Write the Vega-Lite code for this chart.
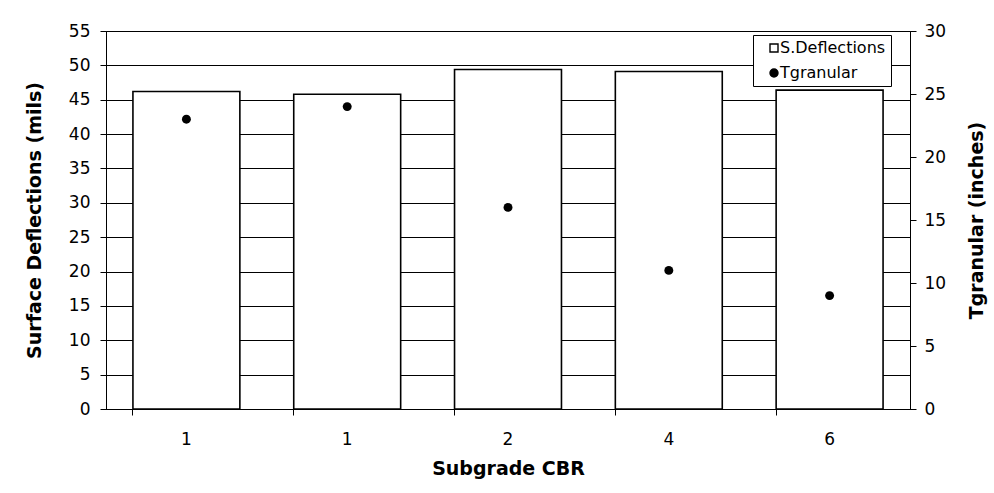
{
  "$schema": "https://vega.github.io/schema/vega-lite/v6.json",
  "autosize": "none",
  "width": 804,
  "height": 378,
  "padding": {"left": 106, "top": 31, "right": 84, "bottom": 84},
  "background": "white",
  "config": {
    "font": "DejaVu Sans",
    "view": {"stroke": "black", "strokeWidth": 1},
    "axis": {"labelFontSize": 17, "labelColor": "black", "titleFontSize": 19, "titleFontWeight": "bold", "titleColor": "black", "domainColor": "black", "tickColor": "black", "labelFont": "DejaVu Sans", "titleFont": "DejaVu Sans"},
    "legend": {"labelFontSize": 16, "labelFont": "DejaVu Sans", "labelColor": "black"}
  },
  "data": {
    "values": [
      {"idx": "a", "cbr": "1", "deflection": 46.2, "tgranular": 23},
      {"idx": "b", "cbr": "1", "deflection": 45.8, "tgranular": 24},
      {"idx": "c", "cbr": "2", "deflection": 49.4, "tgranular": 16},
      {"idx": "d", "cbr": "4", "deflection": 49.1, "tgranular": 11},
      {"idx": "e", "cbr": "6", "deflection": 46.4, "tgranular": 9}
    ]
  },
  "encoding": {
    "x": {
      "field": "idx",
      "type": "nominal",
      "scale": {"paddingInner": 0.335, "paddingOuter": 0.1675},
      "axis": {
        "title": "Subgrade CBR",
        "labelAngle": 0,
        "labelExpr": "{'a':'1','b':'1','c':'2','d':'4','e':'6'}[datum.value]",
        "bandPosition": 0,
        "labelPadding": 16,
        "titlePadding": 12,
        "tickSize": 6,
        "domainColor": "black"
      }
    }
  },
  "layer": [
    {
      "mark": {"type": "bar", "stroke": "black", "strokeWidth": 1.6},
      "encoding": {
        "y": {
          "field": "deflection",
          "type": "quantitative",
          "scale": {"domain": [0, 55], "nice": false},
          "axis": {
            "title": "Surface Deflections (mils)",
            "values": [0, 5, 10, 15, 20, 25, 30, 35, 40, 45, 50, 55],
            "grid": true,
            "gridColor": "black",
            "gridOpacity": 1,
            "gridWidth": 1,
            "tickSize": 6,
            "labelPadding": 10,
            "titlePadding": 24
          }
        },
        "color": {
          "datum": "S.Deflections",
          "scale": {"domain": ["S.Deflections", "Tgranular"], "range": ["white", "black"]},
          "legend": {
            "title": null,
            "orient": "none",
            "legendX": 647,
            "legendY": 4,
            "fillColor": "white",
            "strokeColor": "black",
            "padding": 5,
            "symbolSize": 64,
            "symbolOffset": 8,
            "labelOffset": -2,
            "symbolStrokeColor": "black",
            "symbolStrokeWidth": 1,
            "rowPadding": 9,
            "encode": {
              "symbols": {
                "update": {
                  "shape": {"signal": "datum.value === 'S.Deflections' ? 'square' : 'circle'"},
                  "stroke": {"value": "black"},
                  "strokeWidth": {"value": 1.4}
                }
              }
            }
          }
        }
      }
    },
    {
      "mark": {"type": "point", "filled": true, "size": 80, "opacity": 1},
      "encoding": {
        "y": {
          "field": "tgranular",
          "type": "quantitative",
          "scale": {"domain": [0, 30], "nice": false},
          "axis": {
            "title": "Tgranular (inches)",
            "orient": "right",
            "titleAngle": 270,
            "titleBaseline": "top",
            "values": [0, 5, 10, 15, 20, 25, 30],
            "grid": false,
            "tickSize": 6,
            "labelPadding": 8,
            "titlePadding": 22
          }
        },
        "color": {"datum": "Tgranular"}
      }
    }
  ],
  "resolve": {"scale": {"y": "independent"}}
}
